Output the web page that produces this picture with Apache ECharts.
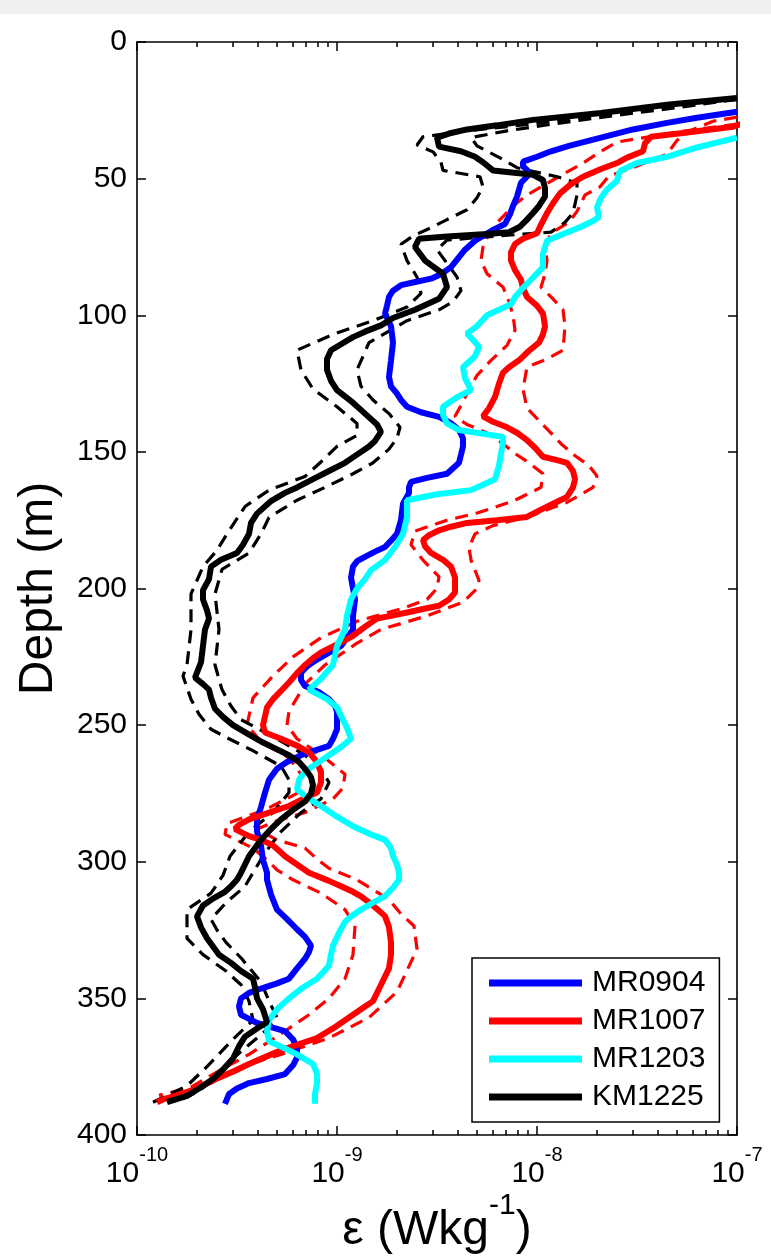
<!DOCTYPE html>
<html><head><meta charset="utf-8">
<script src="https://cdn.jsdelivr.net/npm/echarts@6/dist/echarts.min.js"></script>
<style>html,body{margin:0;padding:0;background:#fff}#chart{width:771px;height:1260px}</style>
</head><body><div id="chart"></div><script>
// ---- data: each entry is [depth (m), log10 of epsilon (W kg^-1)] ----
const seriesNames = ['MR0904', 'MR1007', 'MR1203', 'KM1225'];
const xTickExponents = [-10, -9, -8, -7];
const yTickValues = [0, 50, 100, 150, 200, 250, 300, 350, 400];

const MR0904 = [[25.5,-7.00],[27.7,-7.20],[29.6,-7.35],[32,-7.52],[35,-7.68],[38,-7.84],[40,-7.93],[42,-8.00],[43.8,-8.07],[45.5,-8.07],[46.8,-8.05],[48.5,-8.04],[51.5,-8.08],[56.6,-8.10],[60,-8.12],[63,-8.135],[66.6,-8.16],[68.4,-8.21],[72.7,-8.31],[76,-8.36],[78.7,-8.39],[82.4,-8.43],[85,-8.48],[86.6,-8.53],[88,-8.62],[89,-8.68],[91,-8.72],[93.3,-8.74],[96.5,-8.75],[99.4,-8.76],[104,-8.73],[110,-8.72],[116.5,-8.73],[122.6,-8.74],[126,-8.73],[128.7,-8.70],[131,-8.68],[133.5,-8.65],[135.5,-8.58],[137.2,-8.49],[139.5,-8.43],[142,-8.39],[145,-8.37],[148,-8.37],[151,-8.38],[154,-8.39],[156,-8.42],[158,-8.45],[159.5,-8.55],[161,-8.63],[163,-8.64],[165,-8.64],[169,-8.67],[175,-8.68],[180,-8.70],[182.5,-8.73],[184.8,-8.76],[186.5,-8.81],[188.4,-8.86],[190,-8.90],[192,-8.92],[196,-8.93],[200,-8.92],[204,-8.91],[210,-8.92],[215,-8.92],[218,-8.95],[221,-8.98],[223.5,-9.04],[226,-9.10],[228.5,-9.15],[230.8,-9.18],[233.5,-9.18],[235.7,-9.16],[238,-9.09],[240.5,-9.04],[243,-9.01],[245,-9.00],[248,-9.00],[251.5,-9.00],[255,-9.02],[257.6,-9.04],[259.5,-9.12],[261,-9.18],[263.5,-9.25],[266,-9.30],[270,-9.34],[274.7,-9.36],[280,-9.38],[284.5,-9.40],[289,-9.40],[294,-9.38],[299.4,-9.37],[304,-9.35],[306.6,-9.35],[312,-9.33],[317.5,-9.30],[321,-9.25],[324.7,-9.20],[327.5,-9.16],[330.7,-9.13],[333,-9.14],[335.5,-9.16],[339,-9.20],[342.8,-9.24],[344.5,-9.30],[346.4,-9.38],[348,-9.44],[350,-9.48],[353,-9.49],[356,-9.48],[357.5,-9.44],[359,-9.40],[360.5,-9.33],[362,-9.26],[365,-9.22],[368,-9.20],[371.7,-9.20],[374.5,-9.22],[377.7,-9.26],[379.5,-9.35],[381,-9.44],[383,-9.50],[385,-9.54],[388.6,-9.56]];

const MR1007 = [[30,-6.98],[31,-7.02],[33.3,-7.27],[34.7,-7.43],[37,-7.46],[40,-7.47],[42.3,-7.55],[44.3,-7.60],[46.5,-7.68],[49.3,-7.77],[52,-7.83],[55.4,-7.885],[59,-7.92],[62.6,-7.95],[67.6,-7.985],[70,-8.00],[72,-8.07],[73.9,-8.11],[77,-8.13],[80,-8.13],[83.5,-8.11],[87,-8.08],[90,-8.07],[93.3,-8.05],[96.5,-8.00],[99.4,-7.97],[104,-7.96],[107,-7.97],[110,-7.99],[113,-8.04],[116.5,-8.09],[119,-8.14],[121,-8.17],[125,-8.19],[129.9,-8.21],[134,-8.24],[137,-8.27],[139,-8.22],[141,-8.15],[143,-8.10],[145.7,-8.05],[148.5,-8.01],[151.8,-7.97],[153,-7.90],[154,-7.85],[157,-7.82],[160,-7.81],[163,-7.82],[166.5,-7.85],[169,-7.92],[171.5,-7.99],[173.8,-8.05],[175,-8.20],[176,-8.35],[177.4,-8.43],[178.7,-8.49],[180.5,-8.54],[182.3,-8.57],[184.5,-8.56],[187,-8.53],[189.5,-8.47],[192,-8.43],[196,-8.41],[199.4,-8.41],[201.5,-8.41],[204,-8.44],[206.3,-8.49],[207.5,-8.57],[208.8,-8.65],[210,-8.73],[211,-8.80],[214,-8.86],[217.3,-8.92],[220.5,-9.00],[223.4,-9.08],[225.5,-9.12],[228,-9.16],[231,-9.20],[234.4,-9.24],[237.5,-9.28],[240.5,-9.32],[243.5,-9.35],[246.8,-9.36],[250,-9.37],[252.7,-9.36],[255,-9.28],[257.5,-9.20],[260,-9.14],[263.5,-9.10],[267.4,-9.08],[271,-9.08],[274.7,-9.10],[277,-9.17],[279.6,-9.24],[282,-9.34],[284.5,-9.44],[286.5,-9.49],[288,-9.51],[289.5,-9.47],[290.6,-9.44],[292,-9.38],[294,-9.32],[296,-9.29],[298,-9.26],[301,-9.20],[304,-9.14],[307,-9.04],[309,-8.98],[311,-8.92],[312.7,-8.88],[316,-8.82],[319.9,-8.76],[324,-8.74],[329.5,-8.73],[334,-8.73],[339,-8.74],[345,-8.78],[351,-8.82],[354,-8.88],[357,-8.94],[361,-9.02],[364.5,-9.10],[367,-9.20],[369,-9.28],[371.5,-9.36],[374,-9.44],[376.5,-9.51],[379,-9.59],[381.5,-9.66],[383.7,-9.73],[385.5,-9.80],[387,-9.87],[388,-9.90]];

const MR1007_upper = [[27.5,-7.00],[29,-7.12],[32,-7.22],[36,-7.30],[41,-7.35],[46,-7.52],[49,-7.64],[53,-7.685],[56,-7.76],[62,-7.80],[66,-7.84],[70,-7.93],[75,-7.96],[80,-7.95],[85,-7.96],[89.7,-7.98],[94,-7.92],[98,-7.87],[104,-7.86],[112.8,-7.87],[116,-7.95],[119,-8.05],[127,-8.07],[134,-8.05],[141.6,-7.95],[147,-7.88],[151.4,-7.81],[155,-7.74],[158.8,-7.70],[163,-7.72],[168.5,-7.85],[173.4,-8.03],[177,-8.22],[180,-8.31],[185,-8.34],[189.6,-8.33],[197,-8.29],[200,-8.30],[205,-8.37],[210,-8.55],[215,-8.78],[220,-8.90],[228,-9.06],[235,-9.16],[245,-9.24],[250,-9.25],[255,-9.20],[262,-9.06],[268,-8.96],[273,-8.97],[277,-9.02],[282,-9.16],[285,-9.30],[288,-9.40],[292,-9.30],[295,-9.16],[299,-9.10],[302.4,-9.04],[306.6,-8.90],[313.8,-8.74],[318.7,-8.685],[323.5,-8.615],[332,-8.60],[339,-8.645],[347.6,-8.70],[357,-8.84],[364.5,-9.04],[370.5,-9.28],[375,-9.48],[380,-9.63],[385,-9.77]];

const MR1007_lower = [[30,-7.00],[33,-7.30],[36.6,-7.60],[40,-7.68],[44.3,-7.77],[50.5,-7.92],[56,-8.05],[60,-8.12],[65,-8.185],[70,-8.24],[75,-8.27],[80,-8.28],[84.8,-8.25],[89.7,-8.17],[95,-8.14],[100,-8.12],[105.5,-8.11],[111,-8.15],[116.5,-8.23],[122,-8.30],[128.7,-8.35],[133,-8.38],[137,-8.41],[140,-8.35],[143,-8.25],[147,-8.17],[150.6,-8.11],[154,-8.04],[158,-7.97],[163,-7.98],[167.7,-8.11],[170,-8.20],[172.6,-8.31],[175,-8.45],[179,-8.61],[184,-8.63],[189.6,-8.57],[195.7,-8.49],[200,-8.50],[204,-8.55],[207,-8.66],[212,-8.90],[218,-9.08],[225,-9.22],[232,-9.32],[240,-9.42],[250,-9.45],[256,-9.38],[262,-9.24],[268,-9.18],[275,-9.20],[281,-9.36],[286,-9.55],[290,-9.56],[295,-9.42],[300,-9.34],[303,-9.30],[306.6,-9.22],[311.5,-9.08],[317.5,-8.96],[323.5,-8.91],[334,-8.92],[342.8,-8.96],[350,-9.04],[356,-9.14],[363,-9.28],[370.5,-9.44],[376.5,-9.59],[382.5,-9.73],[385.5,-9.89]];

const MR1203 = [[35,-7.00],[38.6,-7.20],[42,-7.35],[44.3,-7.50],[47,-7.58],[48,-7.59],[50.8,-7.60],[54,-7.65],[57,-7.68],[60.5,-7.70],[64,-7.69],[65.5,-7.72],[67.6,-7.78],[70,-7.86],[72.7,-7.95],[77.5,-7.97],[82.4,-7.97],[87,-8.03],[90,-8.07],[93.3,-8.11],[96,-8.13],[100,-8.25],[104,-8.30],[106.7,-8.35],[109,-8.32],[111.6,-8.29],[115,-8.31],[119,-8.37],[123,-8.36],[127.4,-8.33],[130,-8.40],[133.5,-8.47],[136.5,-8.47],[139.6,-8.45],[142,-8.39],[144.5,-8.17],[147,-8.17],[150.6,-8.18],[155,-8.19],[160,-8.21],[162,-8.27],[164,-8.33],[165.5,-8.50],[167.7,-8.65],[170,-8.65],[173.8,-8.65],[180,-8.67],[184.8,-8.71],[189.6,-8.76],[193.3,-8.83],[196.6,-8.86],[200,-8.90],[204,-8.93],[210,-8.95],[215,-8.96],[221,-9.00],[228,-9.02],[233,-9.08],[237,-9.14],[240.5,-9.05],[243.5,-9.00],[246.6,-8.98],[251,-8.95],[255,-8.93],[258,-8.98],[261,-9.04],[264,-9.10],[267,-9.16],[270,-9.19],[273.5,-9.20],[276.5,-9.15],[279.6,-9.08],[283.5,-9.00],[287,-8.92],[290,-8.83],[292,-8.76],[295,-8.73],[298,-8.72],[301,-8.70],[304,-8.69],[306.6,-8.69],[309.5,-8.72],[312.6,-8.76],[315,-8.82],[317.5,-8.88],[320,-8.93],[322,-8.96],[326,-8.99],[330.7,-9.02],[334,-9.03],[338,-9.04],[340.5,-9.07],[342.8,-9.10],[346,-9.17],[350,-9.24],[354,-9.30],[358,-9.34],[362,-9.35],[365.7,-9.34],[368,-9.27],[370.5,-9.20],[374,-9.12],[377.5,-9.10],[381,-9.10],[385,-9.11],[388.6,-9.11]];

const KM1225 = [[20.5,-7.00],[23,-7.35],[26,-7.68],[28.5,-8.02],[30.5,-8.20],[32,-8.35],[33.5,-8.44],[35,-8.50],[38.3,-8.49],[40,-8.38],[42,-8.31],[44,-8.27],[47,-8.22],[48.6,-8.02],[50.5,-7.97],[53.5,-7.96],[56.6,-7.96],[60,-7.99],[62.6,-8.02],[65,-8.05],[67.6,-8.085],[69.6,-8.14],[70.3,-8.25],[71.2,-8.45],[72,-8.59],[75,-8.61],[80,-8.56],[84.8,-8.47],[89.7,-8.45],[94,-8.49],[98,-8.61],[101,-8.72],[103.7,-8.78],[106,-8.86],[108,-8.92],[112.8,-9.03],[116,-9.05],[120,-9.05],[124,-9.03],[127.4,-9.00],[132,-8.92],[136,-8.86],[140,-8.80],[142.7,-8.78],[146,-8.81],[148,-8.84],[151,-8.90],[154,-8.96],[157,-9.04],[160,-9.12],[163,-9.20],[165,-9.26],[168,-9.33],[172.6,-9.40],[176,-9.43],[180,-9.44],[184,-9.47],[187,-9.50],[189.5,-9.58],[192,-9.63],[196.6,-9.64],[200.6,-9.67],[204,-9.67],[208,-9.65],[211,-9.64],[215,-9.66],[221,-9.67],[227,-9.68],[232.6,-9.71],[235,-9.67],[237,-9.64],[240,-9.63],[244,-9.61],[247,-9.57],[250,-9.52],[253,-9.45],[256,-9.38],[258.5,-9.31],[261,-9.24],[263.5,-9.19],[266,-9.16],[269,-9.13],[272,-9.12],[275,-9.13],[278,-9.16],[281,-9.22],[284.5,-9.28],[288,-9.33],[292,-9.38],[295,-9.41],[298,-9.44],[301,-9.46],[304,-9.48],[306.6,-9.50],[309,-9.53],[311,-9.56],[313.5,-9.62],[316,-9.67],[320,-9.70],[324,-9.68],[328,-9.65],[331,-9.62],[334,-9.59],[337,-9.53],[340,-9.48],[342.8,-9.42],[346,-9.41],[350,-9.40],[354,-9.37],[358.7,-9.35],[361,-9.40],[364,-9.46],[367.5,-9.49],[372,-9.52],[376,-9.57],[379.5,-9.62],[382.5,-9.68],[385.7,-9.75],[388,-9.85]];

const KM1225_upper = [[21,-7.00],[24,-7.30],[27,-7.62],[30,-7.92],[32.5,-8.15],[35,-8.33],[38,-8.30],[42.4,-8.185],[46,-8.10],[49.3,-7.90],[51.6,-7.80],[56,-7.80],[62.6,-7.82],[66,-7.86],[69.6,-7.93],[71,-8.20],[72.5,-8.45],[76,-8.50],[80,-8.46],[86,-8.40],[91,-8.38],[95,-8.42],[98,-8.49],[102,-8.65],[110,-8.84],[120,-8.90],[126,-8.88],[131,-8.82],[136,-8.74],[141,-8.685],[145,-8.70],[149,-8.74],[154,-8.82],[158,-8.92],[163,-9.06],[167.7,-9.20],[174,-9.34],[180,-9.38],[187,-9.44],[193,-9.575],[202,-9.61],[215,-9.59],[228,-9.61],[237,-9.575],[243,-9.53],[248,-9.48],[255,-9.30],[261,-9.16],[266,-9.08],[271,-9.04],[277,-9.08],[282,-9.18],[289,-9.28],[296.7,-9.36],[304,-9.42],[309,-9.46],[315,-9.555],[321,-9.63],[325,-9.60],[329.5,-9.555],[335.5,-9.476],[344,-9.38],[351,-9.34],[357,-9.30],[362,-9.36],[367,-9.44],[372,-9.52],[377.7,-9.595],[384,-9.69],[387,-9.78]];

const KM1225_lower = [[21,-7.00],[24,-7.38],[27,-7.70],[30,-8.02],[32.5,-8.35],[34.7,-8.57],[37.7,-8.60],[40.2,-8.52],[44,-8.48],[47,-8.47],[49.3,-8.285],[53,-8.27],[57,-8.30],[61.4,-8.35],[65,-8.45],[67.6,-8.52],[71,-8.62],[74,-8.68],[80,-8.65],[86,-8.60],[92,-8.58],[97,-8.65],[102,-8.82],[107,-9.02],[112.8,-9.20],[120,-9.18],[127,-9.12],[133.5,-9.00],[139.6,-8.90],[144,-8.90],[148,-9.00],[153,-9.07],[159,-9.16],[164,-9.34],[170,-9.46],[180,-9.55],[186,-9.60],[192,-9.67],[202,-9.73],[215,-9.73],[228,-9.75],[232,-9.77],[240.5,-9.73],[246,-9.69],[251.5,-9.63],[255,-9.54],[259,-9.43],[265,-9.28],[270,-9.24],[274.7,-9.24],[282,-9.32],[289,-9.44],[298,-9.535],[305,-9.57],[311.5,-9.63],[317.5,-9.75],[328,-9.75],[334,-9.67],[340,-9.555],[345,-9.48],[351,-9.44],[358,-9.42],[365,-9.52],[375,-9.65],[382,-9.75],[388,-9.92]];

// ---- build chart ----
const FONT = '"Liberation Sans", Arial, Helvetica, sans-serif';
const toXY = arr => arr.map(p => [Math.pow(10, p[1]), p[0]]);
const minorTicks = [];
[-10, -9, -8].forEach(e => { for (let k = 2; k <= 9; k++) minorTicks.push(e + Math.log10(k)); });

const solid = (name, data, color) => ({
  name, type: 'line', data: toXY(data), xAxisIndex: 0, yAxisIndex: 0,
  showSymbol: false, symbol: 'none', color, lineStyle: { color, width: 6 },
  emphasis: { disabled: true }, silent: true, z: 3
});
const dashed = (name, data, color) => ({
  name, type: 'line', data: toXY(data), xAxisIndex: 0, yAxisIndex: 0,
  showSymbol: false, symbol: 'none', color, lineStyle: { color, width: 3.2, type: [13, 8] },
  emphasis: { disabled: true }, silent: true, z: 2
});

const tickAxis = (position, custom, len, withLabels) => ({
  type: 'value', gridIndex: 0, position, min: -10, max: -7,
  axisLine: { show: false, onZero: false },
  axisTick: { show: true, inside: true, length: len, customValues: custom, lineStyle: { color: '#000', width: 1.5 } },
  axisLabel: withLabels ? {
    show: true, customValues: xTickExponents, margin: 10,
    formatter: v => '{b|10}{s|' + v + '}',
    rich: {
      b: { fontSize: 30, fontFamily: FONT, color: '#000', verticalAlign: 'bottom', padding: [14, 0, 0, 0] },
      s: { fontSize: 20, fontFamily: FONT, color: '#000', verticalAlign: 'top' }
    }
  } : { show: false },
  splitLine: { show: false }
});

const option = {
  backgroundColor: '#ffffff',
  animation: false,
  graphic: [{ type: 'rect', shape: { x: 0, y: 0, width: 771, height: 14 }, style: { fill: '#efefef' }, z: -10 }],
  grid: { left: 137, right: 34, top: 42, bottom: 124, containLabel: false },
  legend: {
    data: seriesNames, orient: 'vertical', left: 472, top: 958,
    padding: [10, 14, 10, 17], itemGap: 8, itemWidth: 93, itemHeight: 7, icon: 'rect',
    textStyle: { fontSize: 30, fontFamily: FONT, color: '#000', lineHeight: 30, padding: [0, 0, 0, 5] },
    borderColor: '#000', borderWidth: 1.5, borderRadius: 0, backgroundColor: '#fff',
    selectedMode: false
  },
  xAxis: [
    {
      type: 'log', logBase: 10, gridIndex: 0, position: 'bottom', min: 1e-10, max: 1e-7,
      axisLine: { show: true, onZero: false, lineStyle: { color: '#000', width: 1.6 } },
      axisTick: { show: false }, axisLabel: { show: false }, splitLine: { show: false },
      minorTick: { show: false }, minorSplitLine: { show: false },
      name: '{t|ε (Wkg}{s|-1}{t|)}', nameLocation: 'middle', nameGap: 56,
      nameTextStyle: {
        rich: {
          t: { fontSize: 48, fontFamily: FONT, color: '#000', verticalAlign: 'bottom', padding: [16, 0, 0, 0] },
          s: { fontSize: 30, fontFamily: FONT, color: '#000', verticalAlign: 'top' }
        }
      }
    },
    tickAxis('bottom', xTickExponents, 9, true),
    tickAxis('bottom', minorTicks, 5, false),
    Object.assign(tickAxis('top', xTickExponents, 9, false), { axisLine: { show: true, onZero: false, lineStyle: { color: '#000', width: 1.6 } } }),
    tickAxis('top', minorTicks, 5, false)
  ],
  yAxis: [
    {
      type: 'value', gridIndex: 0, position: 'left', inverse: true, min: 0, max: 400, interval: 50,
      axisLine: { show: true, onZero: false, lineStyle: { color: '#000', width: 1.6 } },
      axisTick: { show: true, inside: true, length: 9, lineStyle: { color: '#000', width: 1.5 } },
      axisLabel: { show: true, margin: 10, fontSize: 30, fontFamily: FONT, color: '#000',
        customValues: yTickValues },
      splitLine: { show: false },
      name: 'Depth (m)', nameLocation: 'middle', nameGap: 74, nameRotate: 90,
      nameTextStyle: { fontSize: 48, fontFamily: FONT, color: '#000' }
    },
    {
      type: 'value', gridIndex: 0, position: 'right', inverse: true, min: 0, max: 400, interval: 50,
      axisLine: { show: true, onZero: false, lineStyle: { color: '#000', width: 1.6 } },
      axisTick: { show: true, inside: true, length: 9, lineStyle: { color: '#000', width: 1.5 } },
      axisLabel: { show: false }, splitLine: { show: false }
    }
  ],
  series: [
    solid('MR0904', MR0904, '#0000ff'),
    dashed('MR1007 upper', MR1007_upper, '#ff0000'),
    dashed('MR1007 lower', MR1007_lower, '#ff0000'),
    solid('MR1007', MR1007, '#ff0000'),
    solid('MR1203', MR1203, '#00ffff'),
    dashed('KM1225 upper', KM1225_upper, '#000000'),
    dashed('KM1225 lower', KM1225_lower, '#000000'),
    solid('KM1225', KM1225, '#000000')
  ]
};
const chart = echarts.init(document.getElementById('chart'), null, { renderer: 'canvas' });
chart.setOption(option);
</script></body></html>
